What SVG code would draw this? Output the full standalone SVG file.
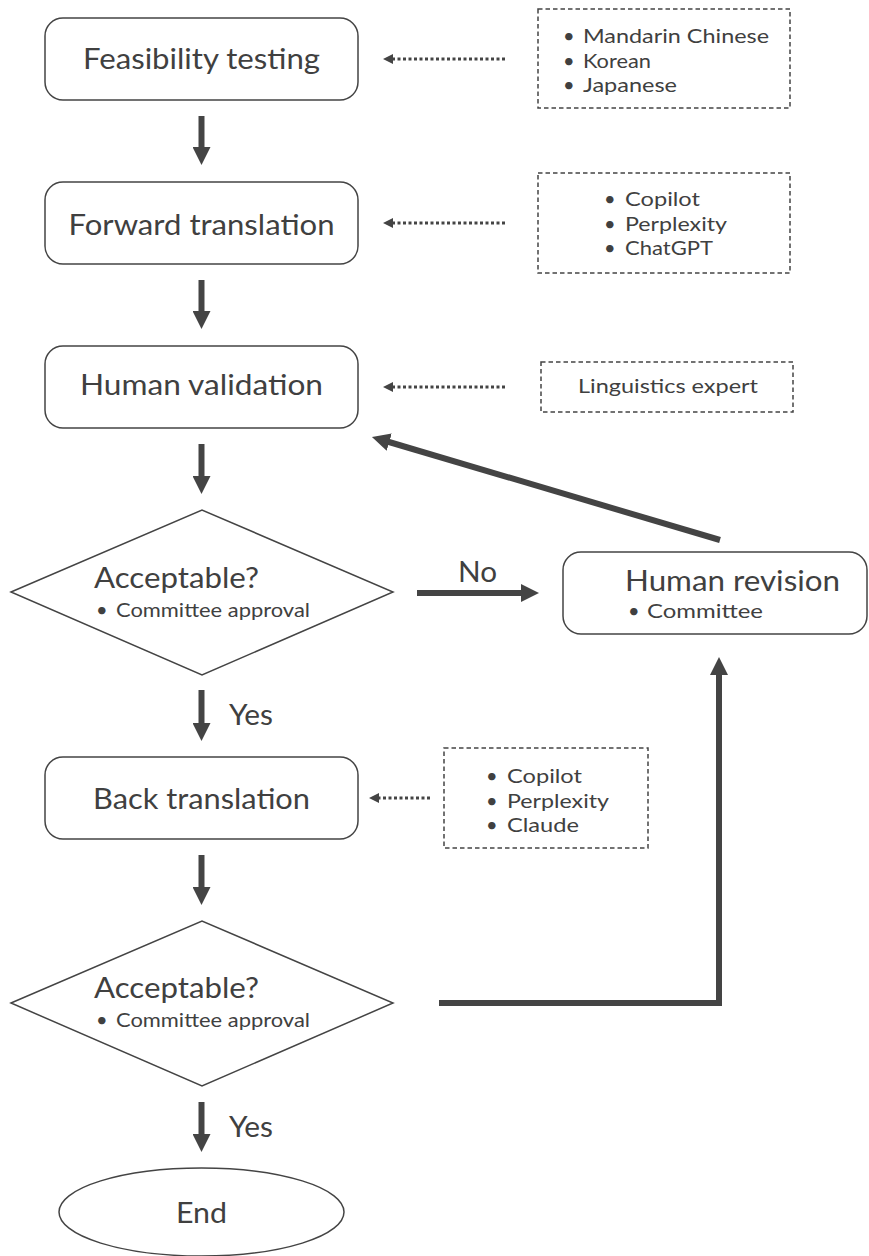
<svg xmlns="http://www.w3.org/2000/svg" width="869" height="1256" viewBox="0 0 869 1256">
<style>
.box{fill:#fff;stroke:#444;stroke-width:1.5}
.dash{fill:none;stroke:#444;stroke-width:1.5;stroke-dasharray:4.5 3}
.lbl{font-family:Lato,"Open Sans",sans-serif;font-size:29px;fill:#404040}
.sm{font-family:Lato,"Open Sans",sans-serif;font-size:20px;fill:#404040}
.arr{fill:none;stroke:#444;stroke-width:6}
.dot{fill:none;stroke:#444;stroke-width:3;stroke-dasharray:3 2.5}
</style>
<defs>
<marker id="ah" markerUnits="userSpaceOnUse" viewBox="0 0 18 18" refX="2" refY="9" markerWidth="18" markerHeight="18" orient="auto">
<path d="M0,0 L18,9 L0,18 z" fill="#444"/>
</marker>
<marker id="dh" markerUnits="userSpaceOnUse" viewBox="0 0 10 10" refX="1" refY="5" markerWidth="10" markerHeight="10" orient="auto">
<path d="M0,0 L10,5 L0,10 z" fill="#444"/>
</marker>
</defs>

<g id="connectors">
<line class="arr" x1="201.5" y1="116" x2="201.5" y2="149" marker-end="url(#ah)"/>
<line class="arr" x1="201.5" y1="280" x2="201.5" y2="313" marker-end="url(#ah)"/>
<line class="arr" x1="201.5" y1="444" x2="201.5" y2="478" marker-end="url(#ah)"/>
<line class="arr" x1="201.5" y1="690" x2="201.5" y2="725" marker-end="url(#ah)"/>
<line class="arr" x1="201.5" y1="855" x2="201.5" y2="889" marker-end="url(#ah)"/>
<line class="arr" x1="201.5" y1="1102" x2="201.5" y2="1136" marker-end="url(#ah)"/>
<line class="arr" x1="417" y1="593" x2="523" y2="593" marker-end="url(#ah)"/>
<line class="arr" x1="720" y1="540" x2="387.3" y2="441.5" marker-end="url(#ah)"/>
<polyline class="arr" points="439,1003 719,1003 719,673" marker-end="url(#ah)"/>
<line class="dot" x1="505" y1="59" x2="392" y2="59" marker-end="url(#dh)"/>
<line class="dot" x1="505" y1="223" x2="392" y2="223" marker-end="url(#dh)"/>
<line class="dot" x1="505" y1="387" x2="392" y2="387" marker-end="url(#dh)"/>
<line class="dot" x1="430" y1="798" x2="378" y2="798" marker-end="url(#dh)"/>
<text class="lbl" x="458" y="582" textLength="39" lengthAdjust="spacingAndGlyphs">No</text>
<text class="lbl" x="229" y="725" textLength="44" lengthAdjust="spacingAndGlyphs">Yes</text>
<text class="lbl" x="229" y="1137" textLength="44" lengthAdjust="spacingAndGlyphs">Yes</text>
</g>

<g id="feasibility">
<rect class="box" x="45" y="18" width="313" height="82" rx="18"/>
<text class="lbl" x="201.5" y="69" text-anchor="middle" textLength="237" lengthAdjust="spacingAndGlyphs">Feasibility testing</text>
</g>
<g id="languages">
<rect class="dash" x="538" y="9" width="252" height="99"/>
<text class="sm" x="563" y="43">•</text><text class="sm" x="583" y="43" textLength="186" lengthAdjust="spacingAndGlyphs">Mandarin Chinese</text>
<text class="sm" x="563" y="67.5">•</text><text class="sm" x="583" y="67.5" textLength="68" lengthAdjust="spacingAndGlyphs">Korean</text>
<text class="sm" x="563" y="92">•</text><text class="sm" x="583" y="92" textLength="94" lengthAdjust="spacingAndGlyphs">Japanese</text>
</g>

<g id="forward">
<rect class="box" x="45" y="182" width="313" height="82" rx="18"/>
<text class="lbl" x="201.5" y="235" text-anchor="middle" textLength="266" lengthAdjust="spacingAndGlyphs">Forward translation</text>
</g>
<g id="forward-tools">
<rect class="dash" x="538" y="173" width="252" height="100"/>
<text class="sm" x="604" y="206">•</text><text class="sm" x="625" y="206" textLength="75" lengthAdjust="spacingAndGlyphs">Copilot</text>
<text class="sm" x="604" y="230.5">•</text><text class="sm" x="625" y="230.5" textLength="102" lengthAdjust="spacingAndGlyphs">Perplexity</text>
<text class="sm" x="604" y="255">•</text><text class="sm" x="625" y="255" textLength="88" lengthAdjust="spacingAndGlyphs">ChatGPT</text>
</g>

<g id="validation">
<rect class="box" x="45" y="346" width="313" height="82" rx="18"/>
<text class="lbl" x="201.5" y="395" text-anchor="middle" textLength="243" lengthAdjust="spacingAndGlyphs">Human validation</text>
</g>
<g id="expert">
<rect class="dash" x="541" y="362" width="252" height="50"/>
<text class="sm" x="668" y="393" text-anchor="middle" textLength="180" lengthAdjust="spacingAndGlyphs">Linguistics expert</text>
</g>

<g id="decision1">
<polygon class="box" points="11,592 202,510 393,592 202,675"/>
<text class="lbl" x="94" y="588" textLength="165" lengthAdjust="spacingAndGlyphs">Acceptable?</text>
<text class="sm" x="96" y="617">•</text><text class="sm" x="116" y="617" textLength="194" lengthAdjust="spacingAndGlyphs">Committee approval</text>
</g>

<g id="revision">
<rect class="box" x="563" y="552" width="304" height="82" rx="18"/>
<text class="lbl" x="625" y="591" textLength="215" lengthAdjust="spacingAndGlyphs">Human revision</text>
<text class="sm" x="628" y="617.5">•</text><text class="sm" x="647" y="617.5" textLength="116" lengthAdjust="spacingAndGlyphs">Committee</text>
</g>

<g id="back">
<rect class="box" x="45" y="757" width="313" height="82" rx="18"/>
<text class="lbl" x="201.5" y="809" text-anchor="middle" textLength="217" lengthAdjust="spacingAndGlyphs">Back translation</text>
</g>
<g id="back-tools">
<rect class="dash" x="444" y="748" width="204" height="100"/>
<text class="sm" x="486" y="783">•</text><text class="sm" x="507" y="783" textLength="75" lengthAdjust="spacingAndGlyphs">Copilot</text>
<text class="sm" x="486" y="807.5">•</text><text class="sm" x="507" y="807.5" textLength="102" lengthAdjust="spacingAndGlyphs">Perplexity</text>
<text class="sm" x="486" y="832">•</text><text class="sm" x="507" y="832" textLength="72" lengthAdjust="spacingAndGlyphs">Claude</text>
</g>

<g id="decision2">
<polygon class="box" points="11,1003 202,921 393,1003 202,1086"/>
<text class="lbl" x="94" y="998" textLength="165" lengthAdjust="spacingAndGlyphs">Acceptable?</text>
<text class="sm" x="96" y="1027">•</text><text class="sm" x="116" y="1027" textLength="194" lengthAdjust="spacingAndGlyphs">Committee approval</text>
</g>

<g id="end">
<ellipse class="box" cx="201.5" cy="1212" rx="142.5" ry="44"/>
<text class="lbl" x="201.5" y="1223" text-anchor="middle" textLength="51" lengthAdjust="spacingAndGlyphs">End</text>
</g>
</svg>
